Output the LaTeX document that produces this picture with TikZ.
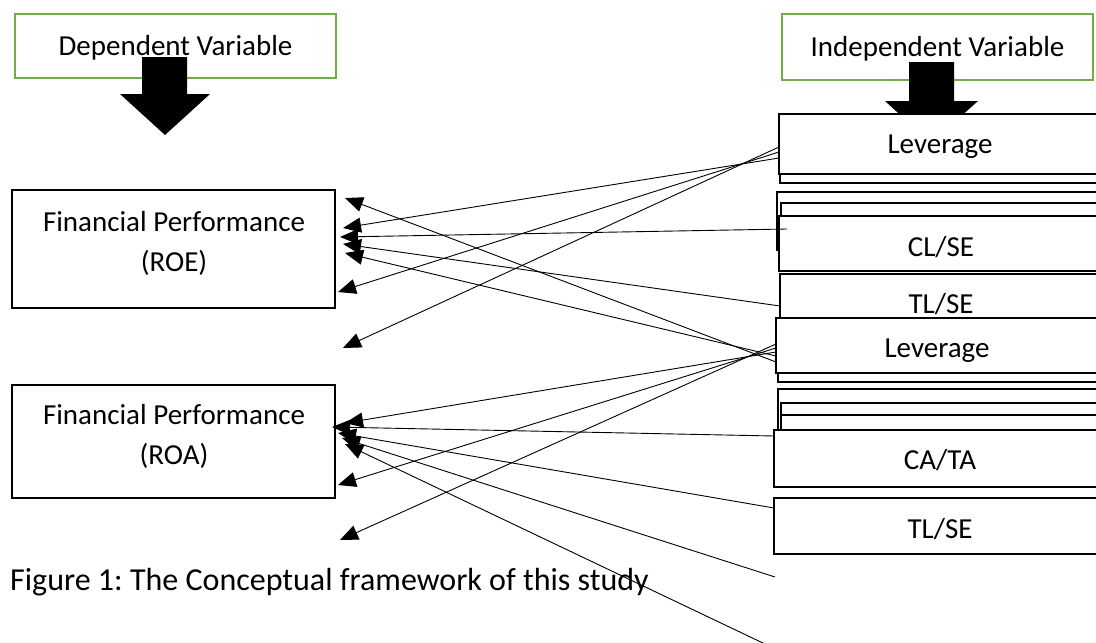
\documentclass[tikz,border=0pt]{standalone}
\usepackage{fontspec}
\setmainfont{Carlito}
\usetikzlibrary{arrows.meta,calc}
\definecolor{boxgreen}{HTML}{70AD47}
\newcommand{\fsbox}{\fontsize{29}{35}\selectfont}
\newcommand{\fscap}{\fontsize{32}{38}\selectfont}
\newcommand{\opensides}[1]{\draw[line width=2pt,line join=miter] (#1.north east) -- (#1.north west) -- (#1.south west) -- (#1.south east);}
\frenchspacing
\begin{document}
\begin{tikzpicture}[x=1pt,y=-1pt,
  greenbox/.style={draw=boxgreen,line width=2pt,fill=white,inner sep=0pt,font=\fsbox,text height=26pt,text depth=7pt},
  rbox/.style={draw=none,fill=white,inner sep=0pt,outer sep=0pt,minimum width=330pt,anchor=west},
  lbox/.style={draw=black,line width=2pt,fill=white,inner sep=0pt},
  txt/.style={font=\fsbox,inner sep=0pt,anchor=base},
  blockarrow/.style={fill=black,draw=none},
  conn/.style={line width=0.9pt,-{Triangle[length=18pt,width=15pt]}}]
\useasboundingbox (0,0) rectangle (1096,643);
\fill[white] (0,0) rectangle (1096,643);

% header boxes
\node[greenbox,minimum width=321,minimum height=64] (dep) at (175.5,46) {Dependent Variable};
\node[greenbox,minimum width=311,minimum height=66] (indep) at (937.5,47) {Independent Variable};

% block arrows
\fill[blockarrow] (142,57) -- (187,57) -- (187,94) -- (210,94) -- (165,135) -- (120,94) -- (142,94) -- cycle;
\fill[blockarrow] (909,62) -- (954,62) -- (954,101) -- (978,101) -- (931,143) -- (885,101) -- (909,101) -- cycle;

% left boxes
\node[lbox,minimum width=323,minimum height=118] (roe) at (173.5,249) {};
\node[txt] (roet1) at (174,231) {Financial Performance};
\node[txt] (roet2) at (174,271) {(ROE)};
\node[lbox,minimum width=323,minimum height=113] (roa) at (173.5,441.5) {};
\node[txt] (roat1) at (174,424) {Financial Performance};
\node[txt] (roat2) at (174,464) {(ROA)};

% right stacked boxes (right edges run off the page)
\node[rbox,minimum height=63] (lev1s) at (780,151.5) {}; \opensides{lev1s}
\node[rbox,minimum height=60] (lev1) at (779,144) {}; \opensides{lev1}
\node[txt] (lev1t) at (940,153.5) {Leverage};
\node[rbox,minimum height=58] (sa) at (777,221) {}; \opensides{sa}
\node[rbox,minimum height=57] (sb) at (781,231.5) {}; \opensides{sb}
\node[rbox,minimum height=55] (clse) at (779,243.5) {}; \opensides{clse}
\node[txt] (cleset) at (941,256) {CL/SE};
\node[rbox,minimum height=58] (tlse1) at (780,303) {}; \opensides{tlse1}
\node[txt] (tlse1t) at (941,313) {TL/SE};
\node[rbox,minimum height=57] (lev2s) at (778,353.5) {}; \opensides{lev2s}
\node[rbox,minimum height=55] (lev2) at (776,345.5) {}; \opensides{lev2}
\node[txt] (lev2t) at (937,357) {Leverage};
\node[rbox,minimum height=51] (ta) at (778,414.5) {}; \opensides{ta}
\node[rbox,minimum height=37] (tb) at (781,421.5) {}; \opensides{tb}
\node[rbox,minimum height=25] (tc) at (781,427.5) {}; \opensides{tc}
\node[rbox,minimum height=57] (cata) at (774,458.5) {}; \opensides{cata}
\node[txt] (catat) at (940,469) {CA/TA};
\node[rbox,minimum height=56] (tlse2) at (774,526) {}; \opensides{tlse2}
\node[txt] (tlse2t) at (940,538) {TL/SE};

% arrow tips (free ends)
\coordinate (t1) at (345,198);
\coordinate (t2) at (343,228);
\coordinate (t3) at (340,237);
\coordinate (t4) at (343,244);
\coordinate (t5) at (345,253);
\coordinate (t6) at (338,292);
\coordinate (t7) at (343,348);
\coordinate (s1) at (345,423);
\coordinate (s2) at (332,427);
\coordinate (s3) at (338,433);
\coordinate (s4) at (342,438);
\coordinate (s5) at (345,444);
\coordinate (s6) at (338,485);
\coordinate (s7) at (340,540);
\coordinate (f1) at (775,577);
\coordinate (f2) at (765,644);

% connectors to ROE
\draw[conn] ($(lev2.west)+(0,16.5)$) -- (t1);
\draw[conn] ($(lev1.west)+(0,14)$) -- (t2);
\draw[conn] ($(clse.west)+(8,-14.5)$) -- (t3);
\draw[conn] ($(tlse1.west)+(0,3)$) -- (t4);
\draw[conn] ($(lev2.west)+(0,10.5)$) -- (t5);
\draw[conn] ($(lev1.west)+(0,8)$) -- (t6);
\draw[conn] ($(lev1.west)+(0,3)$) -- (t7);

% connectors to ROA
\draw[conn] ($(lev2.west)+(0,6.5)$) -- (s1);
\draw[conn] ($(cata.west)+(0,-22.5)$) -- (s2);
\draw[conn] ($(tlse2.west)+(0,-18)$) -- (s3);
\draw[conn] (f1) -- (s4);
\draw[conn] (f2) -- (s5);
\draw[conn] ($(lev2.west)+(0,2.5)$) -- (s6);
\draw[conn] ($(lev2.west)+(0,-1.5)$) -- (s7);

% caption
\node[font=\fscap,inner sep=0pt,anchor=base west] (cap) at (10,590) {Figure 1: The Conceptual framework of this study};
\end{tikzpicture}
\end{document}
